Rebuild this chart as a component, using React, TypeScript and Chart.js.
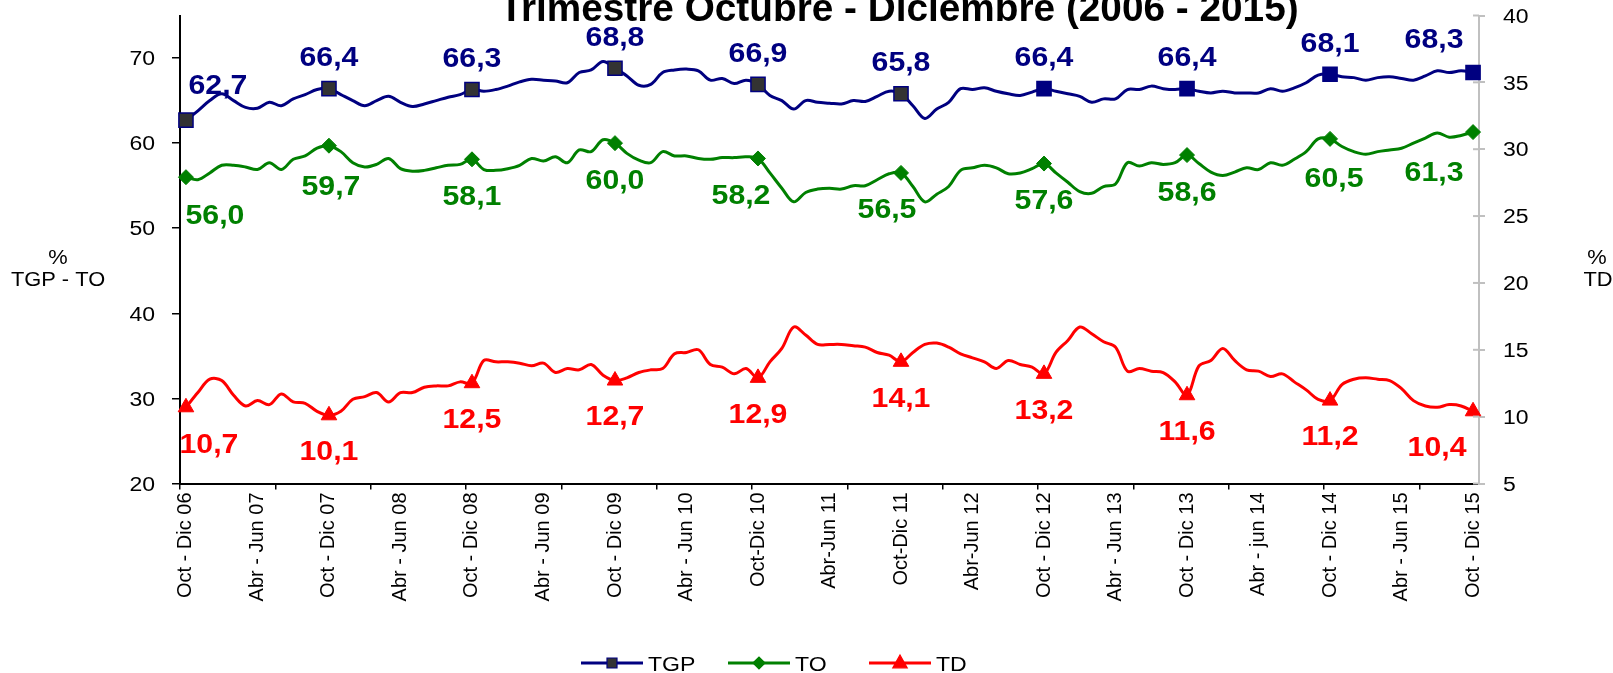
import React, { useEffect, useRef } from "react";
import { Chart, registerables } from "chart.js";

Chart.register(...registerables);

// ---------- DATA ----------
const tickLabels = [
  "Oct - Dic 06", "Abr - Jun 07", "Oct - Dic 07", "Abr - Jun 08", "Oct - Dic 08",
  "Abr - Jun 09", "Oct - Dic 09", "Abr - Jun 10", "Oct-Dic 10", "Abr-Jun 11",
  "Oct-Dic 11", "Abr-Jun 12", "Oct - Dic 12", "Abr - Jun 13", "Oct - Dic 13",
  "Abr - jun 14", "Oct - Dic 14", "Abr - Jun 15", "Oct - Dic 15",
];

const MESES = ["Ene", "Feb", "Mar", "Abr", "May", "Jun", "Jul", "Ago", "Sep", "Oct", "Nov", "Dic"];

const categories: string[] = Array.from({ length: 109 }, (_, i) => {
  if (i % 6 === 0) return tickLabels[i / 6];
  const m = (9 + i) % 12;
  const endM = (m + 2) % 12;
  const year = 2006 + Math.floor((9 + i + 2) / 12);
  return `${MESES[m]} - ${MESES[endM]} ${String(year).slice(2)}`;
});

const tgp = [
  62.7, 63.8, 65.0, 65.8, 65.0, 64.2, 64.1, 64.8, 64.4, 65.2, 65.7, 66.3,
  66.4, 65.7, 65.0, 64.4, 65.0, 65.5, 64.8, 64.3, 64.6, 65.0, 65.4, 65.7,
  66.3, 66.1, 66.3, 66.7, 67.2, 67.5, 67.4, 67.3, 67.1, 68.3, 68.6, 69.6,
  68.8, 67.9, 66.8, 66.9, 68.3, 68.6, 68.7, 68.5, 67.4, 67.6, 67.0, 67.4,
  66.9, 65.6, 65.0, 64.0, 65.0, 64.8, 64.7, 64.6, 65.0, 64.9, 65.5, 66.1,
  65.8, 64.4, 62.9, 64.0, 64.8, 66.4, 66.3, 66.5, 66.1, 65.8, 65.6, 66.0,
  66.4, 66.1, 65.8, 65.5, 64.8, 65.2, 65.2, 66.3, 66.3, 66.7, 66.4, 66.3,
  66.4, 66.1, 65.9, 66.1, 65.9, 65.9, 65.9, 66.4, 66.1, 66.5, 67.1, 68.0,
  68.1, 67.8, 67.7, 67.4, 67.7, 67.8, 67.6, 67.4, 67.9, 68.5, 68.3, 68.5,
  68.3,
];

const to = [
  56.0, 55.7, 56.5, 57.4, 57.4, 57.2, 56.9, 57.7, 56.9, 58.1, 58.5, 59.4,
  59.7, 59.0, 57.7, 57.2, 57.5, 58.2, 57.0, 56.7, 56.8, 57.1, 57.4, 57.5,
  58.1, 56.9, 56.8, 57.0, 57.4, 58.2, 57.9, 58.4, 57.7, 59.2, 59.0, 60.4,
  60.0, 58.8, 58.0, 57.7, 59.0, 58.5, 58.5, 58.2, 58.1, 58.3, 58.3, 58.4,
  58.2, 56.5, 54.7, 53.1, 54.2, 54.6, 54.7, 54.6, 55.0, 55.0, 55.7, 56.4,
  56.5, 54.9, 53.1, 54.0, 54.9, 56.8, 57.1, 57.4, 57.1, 56.4, 56.5, 57.0,
  57.6, 56.5, 55.4, 54.3, 54.1, 54.9, 55.2, 57.7, 57.3, 57.7, 57.5, 57.7,
  58.6, 57.6, 56.6, 56.2, 56.6, 57.1, 56.9, 57.7, 57.4, 58.1, 59.0, 60.5,
  60.5, 59.6, 59.0, 58.7, 59.0, 59.2, 59.4, 60.0, 60.6, 61.2, 60.7, 60.9,
  61.3,
];

const td = [
  10.7, 11.8, 12.8, 12.7, 11.6, 10.8, 11.2, 10.9, 11.7, 11.1, 11.0, 10.4,
  10.1, 10.4, 11.3, 11.5, 11.8, 11.1, 11.8, 11.8, 12.2, 12.3, 12.3, 12.6,
  12.5, 14.2, 14.1, 14.1, 14.0, 13.8, 14.0, 13.3, 13.6, 13.5, 13.9, 13.1,
  12.7, 12.9, 13.3, 13.5, 13.6, 14.7, 14.8, 15.0, 13.9, 13.7, 13.2, 13.6,
  12.9, 14.1, 15.1, 16.7, 16.1, 15.4, 15.4, 15.4, 15.3, 15.2, 14.8, 14.6,
  14.1, 14.8, 15.4, 15.5, 15.2, 14.7, 14.4, 14.1, 13.6, 14.2, 13.9, 13.7,
  13.2, 14.8, 15.7, 16.7, 16.2, 15.6, 15.2, 13.4, 13.6, 13.4, 13.3, 12.6,
  11.6, 13.8, 14.2, 15.1, 14.2, 13.5, 13.4, 13.0, 13.2, 12.6, 12.0, 11.3,
  11.2, 12.4, 12.8, 12.9, 12.8, 12.7, 12.1, 11.2, 10.8, 10.7, 10.9, 10.8,
  10.4,
];

const seriesNames = ["TGP", "TO", "TD"];
const titleText = "Trimestre Octubre - Diciembre (2006 - 2015)";

// ---------- STYLE ----------
const FONT = '"Liberation Sans", Arial, Helvetica, sans-serif';
const NAVY = "#000080";
const GREEN = "#008000";
const RED = "#FF0000";
const GREY_AXIS = "#C0C0C0";

// label offsets (center of text relative to the point), per series
const labelOffsets: { dy: number; special: Record<number, [number, number]> }[] = [
  { dy: -32, special: { 0: [32, -36], 108: [-39, -34] } },
  { dy: 36, special: { 0: [29, 37], 12: [2, 40], 48: [-17, 36], 60: [-14, 35], 96: [4, 38], 108: [-39, 39] } },
  { dy: 35, special: { 0: [23, 36], 108: [-36, 35] } },
];

function drawText(
  ctx: CanvasRenderingContext2D,
  text: string,
  x: number,
  y: number,
  font: string,
  color: string,
  align: CanvasTextAlign,
  sx: number
) {
  ctx.save();
  ctx.font = font;
  ctx.fillStyle = color;
  ctx.textAlign = align;
  ctx.textBaseline = "alphabetic";
  ctx.translate(x, y);
  ctx.scale(sx, 1);
  ctx.fillText(text, 0, 0);
  ctx.restore();
}

function drawMarker(ctx: CanvasRenderingContext2D, style: string, x: number, y: number, r: number, fill: string, stroke: string) {
  ctx.save();
  ctx.beginPath();
  if (style === "rect") {
    ctx.rect(x - r, y - r, 2 * r, 2 * r);
  } else if (style === "rectRot") {
    ctx.moveTo(x - r, y);
    ctx.lineTo(x, y - r);
    ctx.lineTo(x + r, y);
    ctx.lineTo(x, y + r);
    ctx.closePath();
  } else {
    ctx.moveTo(x, y - r);
    ctx.lineTo(x + r * 0.9, y + r * 0.6);
    ctx.lineTo(x - r * 0.9, y + r * 0.6);
    ctx.closePath();
  }
  ctx.fillStyle = fill;
  ctx.fill();
  ctx.lineWidth = 1.2;
  ctx.strokeStyle = stroke;
  ctx.stroke();
  ctx.restore();
}

const overlayPlugin = {
  id: "overlay",
  afterDatasetsDraw(chart: any) {
    const ctx: CanvasRenderingContext2D = chart.ctx;
    chart.data.datasets.forEach((ds: any, di: number) => {
      const meta = chart.getDatasetMeta(di);
      const off = labelOffsets[di];
      meta.data.forEach((pt: any, i: number) => {
        if (i % 12 !== 0) return;
        const [dx, dy] = off.special[i] || [0, off.dy];
        const v = ds.data[i] as number;
        const txt = v.toFixed(1).replace(".", ",");
        drawText(ctx, txt, pt.x + dx, pt.y + dy + 9.7, `bold 27px ${FONT}`, ds.borderColor, "center", 1.12);
      });
    });
  },
  afterDraw(chart: any) {
    const ctx: CanvasRenderingContext2D = chart.ctx;
    const area = chart.chartArea;
    // title (top part clipped by the canvas edge, as in the reference)
    drawText(ctx, titleText, 899, 21, `bold 38px ${FONT}`, "#000", "center", 1.02);

    // y tick labels
    const yS = chart.scales.y;
    yS.ticks.forEach((t: any) => {
      if (t.value % 10 !== 0) return;
      const y = yS.getPixelForValue(t.value);
      drawText(ctx, String(t.value), 155, y + 7.2, `20px ${FONT}`, "#000", "right", 1.15);
    });
    const y1 = chart.scales.y1;
    y1.ticks.forEach((t: any) => {
      const y = y1.getPixelForValue(t.value);
      drawText(ctx, String(t.value), 1503, y + 7.2, `20px ${FONT}`, "#000", "left", 1.15);
      // inner half of the crossing tick marks
      ctx.save();
      ctx.strokeStyle = GREY_AXIS;
      ctx.lineWidth = 2;
      ctx.beginPath();
      ctx.moveTo(area.right - 6, y);
      ctx.lineTo(area.right, y);
      ctx.stroke();
      ctx.restore();
    });

    // axis titles
    drawText(ctx, "%", 58, 264, `19.5px ${FONT}`, "#000", "center", 1.12);
    drawText(ctx, "TGP - TO", 58, 286, `19.5px ${FONT}`, "#000", "center", 1.12);
    drawText(ctx, "%", 1597, 264, `19.5px ${FONT}`, "#000", "center", 1.12);
    drawText(ctx, "TD", 1598, 286, `19.5px ${FONT}`, "#000", "center", 1.12);

    // legend
    const legendY = 663;
    const items = [
      { x0: 581, color: NAVY, style: "rect", r: 5, fill: "#333333", stroke: NAVY, text: seriesNames[0] },
      { x0: 728, color: GREEN, style: "rectRot", r: 6, fill: GREEN, stroke: GREEN, text: seriesNames[1] },
      { x0: 869, color: RED, style: "triangle", r: 8, fill: RED, stroke: RED, text: seriesNames[2] },
    ];
    items.forEach((it) => {
      ctx.save();
      ctx.strokeStyle = it.color;
      ctx.lineWidth = 3;
      ctx.beginPath();
      ctx.moveTo(it.x0, legendY);
      ctx.lineTo(it.x0 + 62, legendY);
      ctx.stroke();
      ctx.restore();
      drawMarker(ctx, it.style, it.x0 + 31, legendY, it.r, it.fill, it.stroke);
      drawText(ctx, it.text, it.x0 + 67, legendY + 7.5, `21px ${FONT}`, "#000", "left", 1.1);
    });
  },
};

export default function App() {
  const ref = useRef<HTMLCanvasElement>(null);

  useEffect(() => {
    if (!ref.current) return;
    const chart = new Chart(ref.current, {
      type: "line",
      data: {
        labels: categories,
        datasets: [
          {
            label: seriesNames[0],
            data: tgp,
            yAxisID: "y",
            borderColor: NAVY,
            backgroundColor: NAVY,
            borderWidth: 3,
            pointStyle: "rect",
            pointRadius: (c: any) => (c.dataIndex % 12 === 0 ? 10 : 0),
            pointHoverRadius: (c: any) => (c.dataIndex % 12 === 0 ? 10 : 0),
            pointBackgroundColor: (c: any) => (c.dataIndex <= 60 ? "#333333" : NAVY),
            pointBorderColor: NAVY,
            pointBorderWidth: 1.5,
          },
          {
            label: seriesNames[1],
            data: to,
            yAxisID: "y",
            borderColor: GREEN,
            backgroundColor: GREEN,
            borderWidth: 3,
            pointStyle: "rectRot",
            pointRadius: (c: any) => (c.dataIndex % 12 === 0 ? 7.5 : 0),
            pointHoverRadius: (c: any) => (c.dataIndex % 12 === 0 ? 7.5 : 0),
            pointBackgroundColor: GREEN,
            pointBorderColor: GREEN,
            pointBorderWidth: 1,
          },
          {
            label: seriesNames[2],
            data: td,
            yAxisID: "y1",
            borderColor: RED,
            backgroundColor: RED,
            borderWidth: 3,
            pointStyle: "triangle",
            pointRadius: (c: any) => (c.dataIndex % 12 === 0 ? 9 : 0),
            pointHoverRadius: (c: any) => (c.dataIndex % 12 === 0 ? 9 : 0),
            pointBackgroundColor: RED,
            pointBorderColor: RED,
            pointBorderWidth: 1,
          },
        ],
      },
      options: {
        animation: false,
        responsive: true,
        maintainAspectRatio: false,
        devicePixelRatio: 1,
        layout: { padding: { top: 15.5, left: 0, right: 0, bottom: 0 } },
        elements: { line: { tension: 0.35 } },
        plugins: {
          legend: { display: false },
          title: { display: false },
          tooltip: { enabled: false },
        },
        scales: {
          x: {
            type: "category",
            offset: true,
            afterFit: (s: any) => {
              s.height = 673 - 483.5;
            },
            border: { display: true, color: "#000", width: 2 },
            grid: {
              display: true,
              drawOnChartArea: false,
              drawTicks: true,
              tickLength: 6,
              offset: true,
              lineWidth: 1.5,
              color: (c: any) => (c.index % 8 === 0 ? "#000" : "rgba(0,0,0,0)"),
            },
            ticks: {
              autoSkip: false,
              minRotation: 90,
              maxRotation: 90,
              padding: 3,
              color: "#000",
              font: { family: FONT, size: 20 },
              callback: (_v: any, i: number) => (i % 6 === 0 ? categories[i] : ""),
            },
          },
          y: {
            type: "linear",
            position: "left",
            min: 20,
            max: 75,
            afterFit: (s: any) => {
              s.width = 180;
            },
            border: { display: true, color: "#000", width: 2 },
            grid: {
              drawOnChartArea: false,
              drawTicks: true,
              tickLength: 8,
              lineWidth: 1.5,
              color: (c: any) => (c.tick && c.tick.value % 10 === 0 ? "#000" : "rgba(0,0,0,0)"),
            },
            ticks: { display: false, stepSize: 10 },
          },
          y1: {
            type: "linear",
            position: "right",
            min: 5,
            max: 40,
            afterFit: (s: any) => {
              s.width = 1613 - 1479;
            },
            border: { display: true, color: GREY_AXIS, width: 2 },
            grid: {
              drawOnChartArea: false,
              drawTicks: true,
              tickLength: 6,
              lineWidth: 2,
              color: GREY_AXIS,
            },
            ticks: { display: false, stepSize: 5 },
          },
        },
      },
      plugins: [overlayPlugin],
    } as any);
    return () => chart.destroy();
  }, []);

  return (
    <div style={{ position: "fixed", left: 0, top: 0, width: 1613, height: 673, background: "#fff" }}>
      <canvas ref={ref} />
    </div>
  );
}
